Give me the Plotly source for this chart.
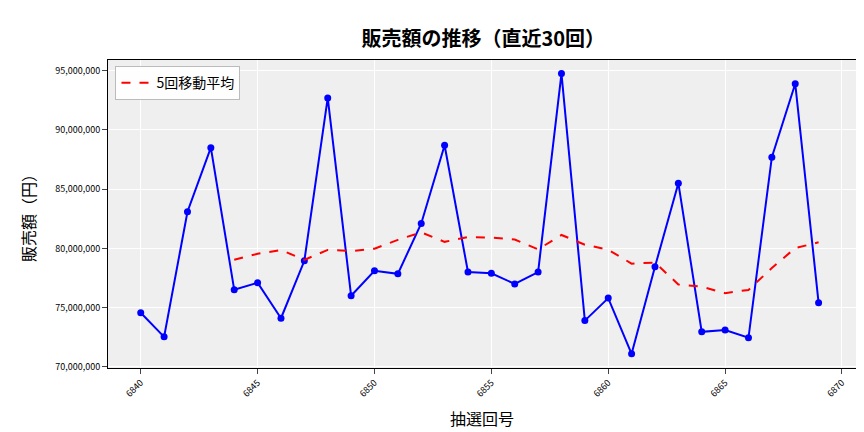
import plotly.graph_objects as go
import pandas as pd

draws = list(range(6840, 6870))
sales = [74.56, 72.53, 83.09, 88.5, 76.5, 77.1, 74.1, 78.95, 92.7, 76.0,
         78.1, 77.85, 82.1, 88.7, 78.0, 77.9, 77.0, 78.0, 94.75, 73.9,
         75.8, 71.1, 78.45, 85.5, 72.95, 73.1, 72.45, 87.7, 93.9, 75.4]
sales = [v * 1e6 for v in sales]
ma = pd.Series(sales).rolling(5).mean().tolist()

font = "Noto Sans CJK JP"
fig = go.Figure()
fig.add_trace(go.Scatter(x=draws, y=sales, mode="lines+markers",
                         line=dict(color="blue", width=2), marker=dict(color="blue", size=7),
                         showlegend=False))
fig.add_trace(go.Scatter(x=draws, y=ma, mode="lines", name="5回移動平均",
                         line=dict(color="red", width=2, dash="dash")))
fig.update_layout(
    width=864, height=432, paper_bgcolor="white", plot_bgcolor="#efefef",
    font=dict(family=font, color="black"),
    margin=dict(l=100, r=16, t=52, b=72, autoexpand=False),
    title=dict(text="<b>販売額の推移（直近30回）</b>", x=0.55, xanchor="center", y=0.945,
               font=dict(size=20)),
    legend=dict(x=0.01, y=0.98, xanchor="left", yanchor="top", bgcolor="rgba(255,255,255,0.9)",
                bordercolor="#bbb", borderwidth=1, font=dict(size=14)),
)
fig.update_xaxes(range=[6838.6, 6870.6], tickvals=list(range(6840, 6871, 5)), tickangle=-45,
                 tickfont=dict(size=9), gridcolor="white", showline=True, linecolor="black",
                 mirror=True, ticks="outside",
                 title=dict(text="抽選回号", font=dict(size=16)), zeroline=False)
fig.update_yaxes(range=[69.9e6, 95.9e6], tickvals=[70e6, 75e6, 80e6, 85e6, 90e6, 95e6],
                 tickformat=",", tickfont=dict(size=9), gridcolor="white", showline=True,
                 linecolor="black", mirror=True, ticks="outside",
                 title=dict(text="販売額（円）", font=dict(size=16)), zeroline=False)
fig.write_html("out.html")
